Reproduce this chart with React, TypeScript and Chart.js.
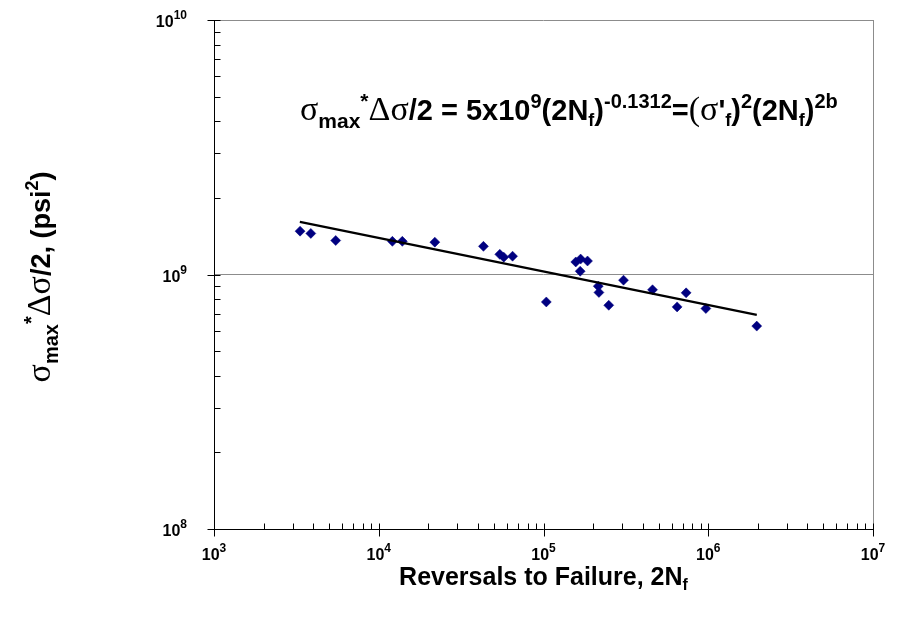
import React, { useEffect, useRef } from 'react';
import { Chart, registerables } from 'chart.js';

Chart.register(...registerables);

// ---- data ----
const reversals = [3330, 3870, 5480, 12100, 13900, 21900, 43200, 54300, 57400, 64900, 104000, 157000, 168000, 185000, 167000, 215000, 217000, 249000, 306000, 459000, 647000, 734000, 967000, 1970000];
const stressProduct = [1.48e9, 1.45e9, 1.36e9, 1.35e9, 1.35e9, 1.34e9, 1.29e9, 1.2e9, 1.17e9, 1.18e9, 7.8e8, 1.12e9, 1.15e9, 1.13e9, 1.03e9, 9.0e8, 8.5e8, 7.57e8, 9.5e8, 8.71e8, 7.46e8, 8.47e8, 7.35e8, 6.27e8];
const trendX = [3320, 1970000];
const trendY = [1.61e9, 6.94e8];
const xMajorTicks = [1e3, 1e4, 1e5, 1e6, 1e7];
const yMajorTicks = [1e8, 1e9, 1e10];
const xTickExponents = ['3', '4', '5', '6', '7'];
const yTickExponents = ['8', '9', '10'];
const minorMultipliers = [2, 3, 4, 5, 6, 7, 8, 9];

type Seg = { t: string; size: number; bold?: boolean; serif?: boolean; dy?: number };

const SANS = '"Liberation Sans", Arial, sans-serif';
const SERIF = '"Liberation Serif", "Times New Roman", serif';

function segFont(s: Seg) {
  const bold = s.bold === false || s.serif ? '' : 'bold ';
  return `${bold}${s.size}px ${s.serif ? SERIF : SANS}`;
}
function measureRich(ctx: CanvasRenderingContext2D, segs: Seg[]) {
  let w = 0;
  for (const s of segs) {
    ctx.font = segFont(s);
    w += ctx.measureText(s.t).width;
  }
  return w;
}
function drawRich(ctx: CanvasRenderingContext2D, segs: Seg[], x: number, y: number, align: 'left' | 'center' | 'right') {
  const w = measureRich(ctx, segs);
  let cx = align === 'center' ? x - w / 2 : align === 'right' ? x - w : x;
  ctx.textAlign = 'left';
  ctx.textBaseline = 'alphabetic';
  for (const s of segs) {
    ctx.font = segFont(s);
    ctx.fillText(s.t, cx, y + (s.dy || 0));
    cx += ctx.measureText(s.t).width;
  }
}

const equation: Seg[] = [
  { t: 'σ', size: 34, serif: true },
  { t: 'max', size: 21, dy: 8 },
  { t: '*', size: 21, dy: -12 },
  { t: 'Δσ', size: 34, serif: true },
  { t: '/2 = 5x10', size: 29 },
  { t: '9', size: 20, dy: -12 },
  { t: '(2N', size: 29 },
  { t: 'f', size: 18, dy: 6 },
  { t: ')', size: 29 },
  { t: '-0.1312', size: 20, dy: -12 },
  { t: '=', size: 29 },
  { t: '(σ', size: 34, serif: true },
  { t: "'", size: 29 },
  { t: 'f', size: 18, dy: 6 },
  { t: ')', size: 29 },
  { t: '2', size: 20, dy: -12 },
  { t: '(2N', size: 29 },
  { t: 'f', size: 18, dy: 6 },
  { t: ')', size: 29 },
  { t: '2b', size: 20, dy: -12 },
];

const yTitle: Seg[] = [
  { t: 'σ', size: 34, serif: true },
  { t: 'max', size: 20, dy: 8 },
  { t: '*', size: 20, dy: -12 },
  { t: 'Δσ', size: 34, serif: true },
  { t: '/2, (psi', size: 27 },
  { t: '2', size: 18, dy: -12 },
  { t: ')', size: 27 },
];

const xTitle: Seg[] = [
  { t: 'Reversals to Failure, 2N', size: 25 },
  { t: 'f', size: 16, dy: 5 },
];

const decorPlugin = {
  id: 'decor',
  afterDraw(chart: any) {
    const ctx: CanvasRenderingContext2D = chart.ctx;
    const xs = chart.scales.x;
    const ys = chart.scales.y;
    const { left, right, top, bottom } = chart.chartArea;
    const ax = Math.round(left) + 0.5;
    const ay = Math.round(bottom) + 0.5;
    ctx.save();
    ctx.strokeStyle = '#000';
    ctx.lineWidth = 1;
    ctx.beginPath();
    ctx.moveTo(ax, top);
    ctx.lineTo(ax, ay);
    ctx.lineTo(right, ay);
    // y ticks
    for (let i = 0; i < yMajorTicks.length; i++) {
      const v = yMajorTicks[i];
      const py = Math.round(ys.getPixelForValue(v)) + 0.5;
      ctx.moveTo(ax - 7, py);
      ctx.lineTo(ax + 6, py);
      if (i < yMajorTicks.length - 1) {
        for (const m of minorMultipliers) {
          const my = Math.round(ys.getPixelForValue(v * m)) + 0.5;
          ctx.moveTo(ax, my);
          ctx.lineTo(ax + 6, my);
        }
      }
    }
    // x ticks
    for (let i = 0; i < xMajorTicks.length; i++) {
      const v = xMajorTicks[i];
      const px = Math.round(xs.getPixelForValue(v)) + 0.5;
      ctx.moveTo(px, ay - 6);
      ctx.lineTo(px, ay + 7);
      if (i < xMajorTicks.length - 1) {
        for (const m of minorMultipliers) {
          const mx = Math.round(xs.getPixelForValue(v * m)) + 0.5;
          ctx.moveTo(mx, ay);
          ctx.lineTo(mx, ay - 6);
        }
      }
    }
    ctx.stroke();

    ctx.fillStyle = '#000';
    // tick labels
    for (let i = 0; i < xMajorTicks.length; i++) {
      const px = xs.getPixelForValue(xMajorTicks[i]);
      drawRich(ctx, [{ t: '10', size: 16 }, { t: xTickExponents[i], size: 12, dy: -8 }], px, bottom + 31, 'center');
    }
    for (let i = 0; i < yMajorTicks.length; i++) {
      const py = ys.getPixelForValue(yMajorTicks[i]);
      drawRich(ctx, [{ t: '10', size: 16 }, { t: yTickExponents[i], size: 12, dy: -8 }], left - 27, py + 7, 'right');
    }
    // x title
    drawRich(ctx, xTitle, (left + right) / 2, 585, 'center');
    // y title
    ctx.save();
    ctx.translate(50, 277);
    ctx.rotate(-Math.PI / 2);
    drawRich(ctx, yTitle, 0, 0, 'center');
    ctx.restore();
    // equation
    drawRich(ctx, equation, 300, 120, 'left');
    ctx.restore();
  },
};

export default function App() {
  const canvasRef = useRef<HTMLCanvasElement | null>(null);

  useEffect(() => {
    document.body.style.margin = '0';
    const canvas = canvasRef.current;
    if (!canvas) return;
    const chart = new Chart(canvas, {
      type: 'scatter',
      data: {
        datasets: [
          {
            label: 'Trend',
            data: trendX.map((x, i) => ({ x, y: trendY[i] })),
            showLine: true,
            borderColor: '#000',
            borderWidth: 2.2,
            pointRadius: 0,
            fill: false,
          } as any,
          {
            label: 'Data',
            data: reversals.map((x, i) => ({ x, y: stressProduct[i] })),
            pointStyle: 'rectRot',
            pointRadius: 5,
            pointBackgroundColor: '#000080',
            pointBorderColor: '#000080',
            pointBorderWidth: 0.5,
          },
        ],
      },
      options: {
        animation: false,
        responsive: false,
        maintainAspectRatio: false,
        events: [],
        layout: { padding: { left: 0, top: 20, right: 29, bottom: 0 } },
        plugins: {
          legend: { display: false },
          tooltip: { enabled: false },
          title: { display: false },
        },
        scales: {
          x: {
            type: 'logarithmic',
            min: 1e3,
            max: 1e7,
            afterFit: (s: any) => { s.height = 89; },
            ticks: { display: false },
            border: { display: false },
            grid: {
              drawTicks: false,
              lineWidth: 1,
              color: (c: any) => (c.tick && c.tick.value === 1e7 ? '#8c8c8c' : 'rgba(0,0,0,0)'),
            },
          },
          y: {
            type: 'logarithmic',
            min: 1e8,
            max: 1e10,
            afterFit: (s: any) => { s.width = 214; },
            ticks: { display: false },
            border: { display: false },
            grid: {
              drawTicks: false,
              lineWidth: 1,
              color: (c: any) =>
                c.tick && (c.tick.value === 1e9 || c.tick.value === 1e10) ? '#8c8c8c' : 'rgba(0,0,0,0)',
            },
          },
        },
      },
      plugins: [decorPlugin],
    });
    return () => chart.destroy();
  }, []);

  return (
    <div style={{ position: 'absolute', left: 0, top: 0, width: 902, height: 618, background: '#fff' }}>
      <canvas ref={canvasRef} width={902} height={618} style={{ width: 902, height: 618 }} />
    </div>
  );
}
